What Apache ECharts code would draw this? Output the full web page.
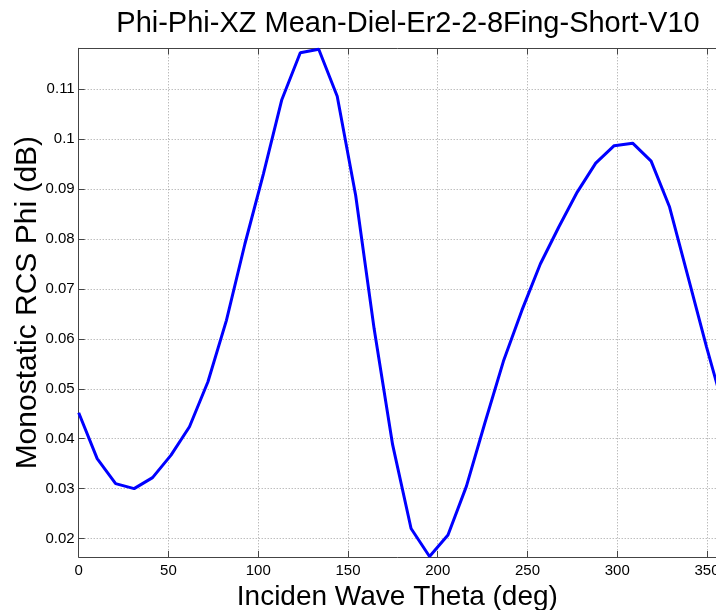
<!DOCTYPE html>
<html>
<head>
<meta charset="utf-8">
<script src="https://cdn.jsdelivr.net/npm/echarts@6/dist/echarts.min.js"></script>
<style>
  html, body { margin: 0; padding: 0; background: #fff; }
  #main { width: 716px; height: 610px; }
</style>
</head>
<body>
<div id="main"></div>
<script>
// incident angle (deg), 36 samples over 0..360
var theta = [0, 10.29, 20.57, 30.86, 41.14, 51.43, 61.71, 72, 82.29, 92.57,
    102.86, 113.14, 123.43, 133.71, 144, 154.29, 164.57, 174.86, 185.14, 195.43,
    205.71, 216, 226.29, 236.57, 246.86, 257.14, 267.43, 277.71, 288, 298.29,
    308.57, 318.86, 329.14, 339.43, 349.71, 360];
// mean monostatic RCS phi
var rcsPhi = [0.0452, 0.0360, 0.0310, 0.0300, 0.0322, 0.0367, 0.0424, 0.0514, 0.0637, 0.0790,
    0.0930, 0.1079, 0.1173, 0.1180, 0.1086, 0.0887, 0.0620, 0.0388, 0.0220, 0.0164,
    0.0207, 0.0305, 0.0432, 0.0555, 0.0657, 0.0750, 0.0824, 0.0894, 0.0952, 0.0987,
    0.0992, 0.0956, 0.0864, 0.0724, 0.0584, 0.0452];
var xTicks = [0, 50, 100, 150, 200, 250, 300, 350];
var yTicks = [0.02, 0.03, 0.04, 0.05, 0.06, 0.07, 0.08, 0.09, 0.1, 0.11];

var myChart = echarts.init(document.getElementById('main'));

var pts = [];
theta.forEach(function (t, i) {
    pts.push([t, rcsPhi[i]]);
});

var font = 'Liberation Sans, Arial, Helvetica, sans-serif';
var gridLine = { show: true, lineStyle: { color: '#a0a0a0', type: [1, 2], width: 1 } };
var axLine = { show: true, onZero: false, lineStyle: { color: '#444', width: 1 } };

// the original figure is cropped on the right, around 355 deg
var option = {
    animation: false,
    backgroundColor: '#fff',
    title: {
        text: 'Phi-Phi-XZ Mean-Diel-Er2-2-8Fing-Short-V10',
        left: 403,
        top: 4,
        textAlign: 'center',
        textStyle: { fontFamily: font, fontSize: 29, fontWeight: 'normal', color: '#000' }
    },
    grid: { left: 78.7, right: 0, top: 48.3, bottom: 53, outerBoundsMode: 'none', containLabel: false },
    xAxis: [{
        type: 'value',
        min: 0, max: 355,
        name: 'Inciden Wave Theta (deg)',
        nameLocation: 'middle',
        nameGap: 25,
        nameTextStyle: { fontFamily: font, fontSize: 28, color: '#000' },
        axisLine: axLine,
        axisTick: { show: true, inside: true, length: 6, customValues: xTicks, lineStyle: { color: '#444' } },
        axisLabel: { fontFamily: font, fontSize: 15, color: '#000', margin: 6, customValues: xTicks },
        splitLine: gridLine
    }, {
        type: 'value',
        position: 'top',
        min: 0, max: 355,
        axisLine: axLine,
        axisTick: { show: true, inside: true, length: 6, customValues: xTicks, lineStyle: { color: '#444' } },
        axisLabel: { show: false, customValues: xTicks },
        splitLine: { show: false }
    }],
    yAxis: {
        type: 'value',
        min: 0.0163, max: 0.1182,
        name: 'Monostatic RCS Phi (dB)',
        nameLocation: 'middle',
        nameMoveOverlap: false,
        nameGap: 36,
        nameTextStyle: { fontFamily: font, fontSize: 30, color: '#000' },
        axisLine: axLine,
        axisTick: { show: true, inside: true, length: 6, customValues: yTicks, lineStyle: { color: '#444' } },
        axisLabel: {
            fontFamily: font, fontSize: 15, color: '#000', margin: 4,
            customValues: yTicks,
            formatter: function (v) { return String(+v.toFixed(2)); }
        },
        splitLine: gridLine
    },
    series: [{
        type: 'line',
        data: pts,
        showSymbol: false,
        symbol: 'none',
        lineStyle: { color: '#0000ff', width: 3 }
    }]
};
myChart.setOption(option);
</script>
</body>
</html>
